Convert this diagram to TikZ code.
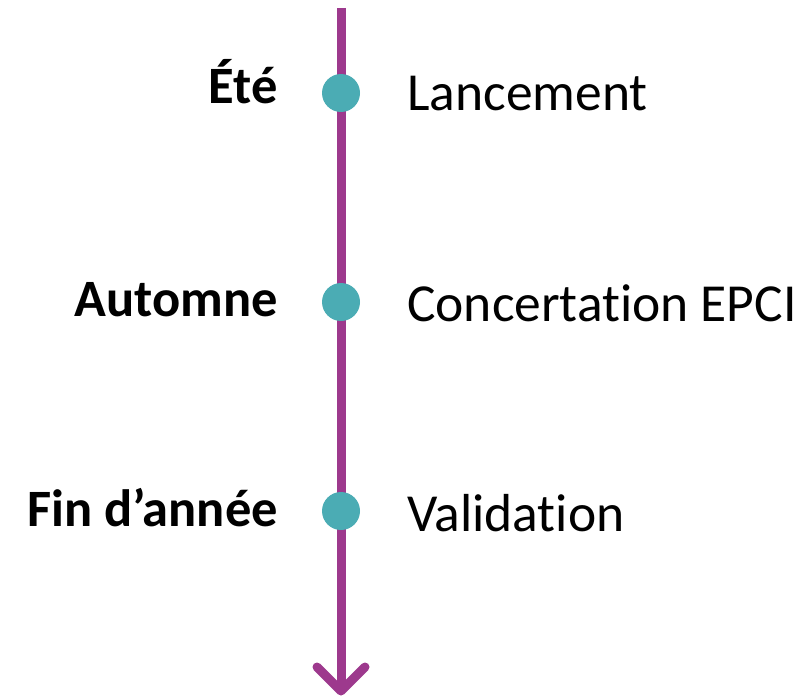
\documentclass[tikz,border=0pt]{standalone}
\usepackage{fontspec}
\setmainfont[Ligatures=NoCommon]{Carlito}
\definecolor{tlpurple}{RGB}{157,57,141}
\definecolor{tlteal}{RGB}{75,172,180}
\begin{document}
\begin{tikzpicture}[x=1pt,y=-1pt,
  dot/.style={circle,fill=tlteal,inner sep=0pt,minimum size=38pt},
  season/.style={anchor=base east,inner sep=0pt,font=\fontsize{52.5}{60}\selectfont\bfseries},
  event/.style={anchor=base west,inner sep=0pt,font=\fontsize{53.5}{60}\selectfont},
  axis/.style={draw=tlpurple,line width=9pt}]
\useasboundingbox (0,0) rectangle (811,698);
\coordinate (top) at (341,8);
\coordinate (tip) at (341,691);
\coordinate (armL) at (317,667);
\coordinate (armR) at (365,667);
\draw[axis,line cap=butt] (top) -- (tip);
\draw[axis,line cap=round,line join=round] (armL) -- (tip) -- (armR);
\node[dot] (d1) at (341,93) {};
\node[dot] (d2) at (341,302) {};
\node[dot] (d3) at (341,511) {};
\node[season] (s1) at (278,104) {Été};
\node[season] (s2) at (278,316) {Automne};
\node[season] (s3) at (278,526) {Fin d’année};
\node[event] (e1) at (407,111) {Lancement};
\node[event] (e2) at (407,321) {Concertation EPCI};
\node[event] (e3) at (407,531) {Validation};
\end{tikzpicture}
\end{document}
